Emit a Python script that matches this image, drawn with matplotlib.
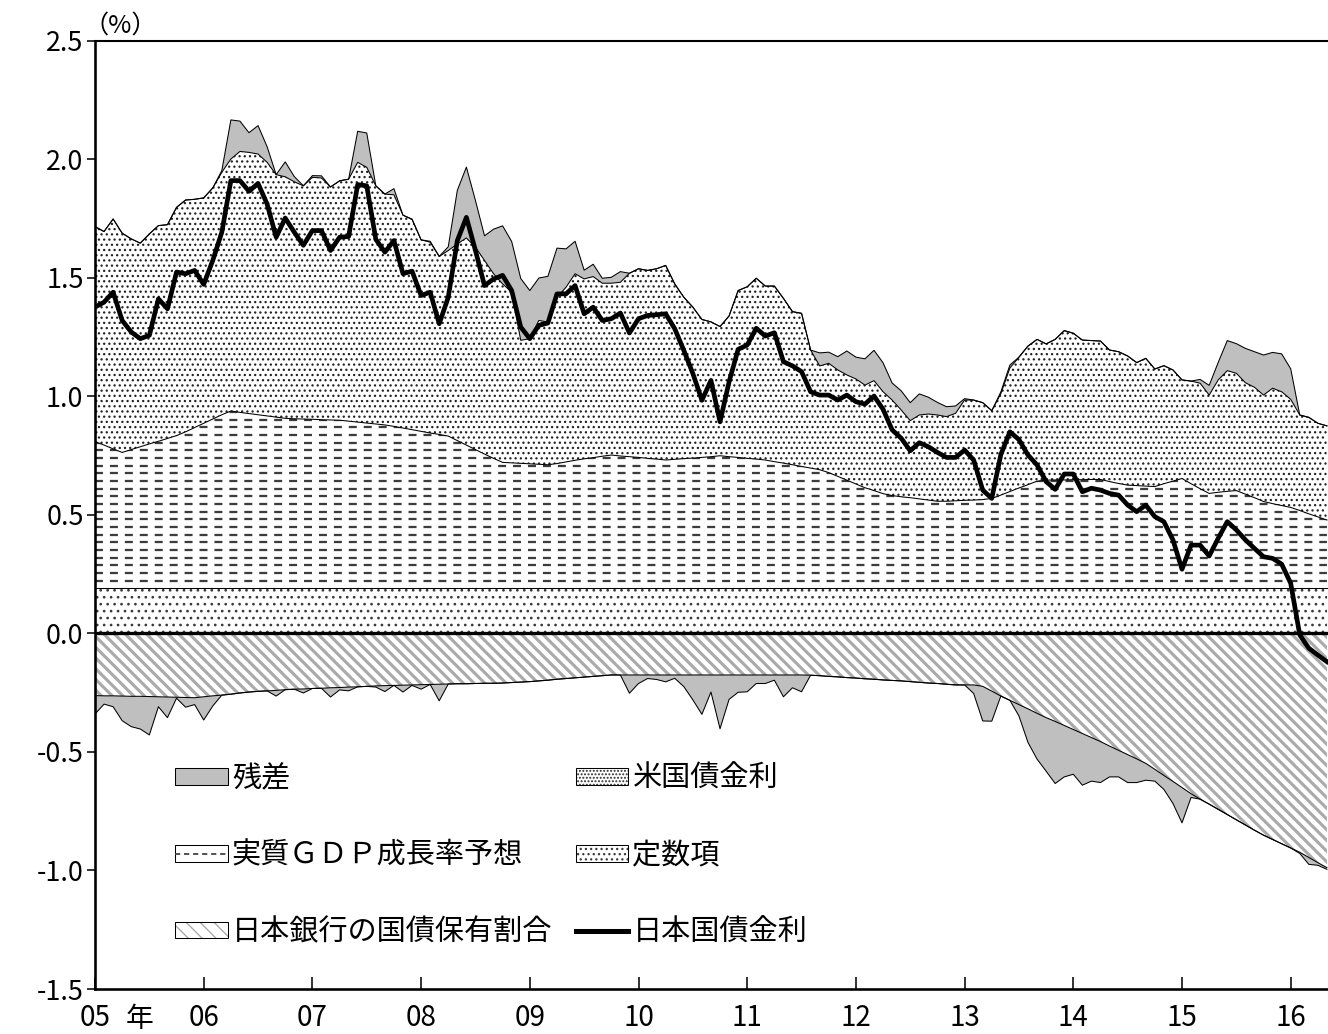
import numpy as np
import matplotlib
matplotlib.use("Agg")
import matplotlib.pyplot as plt
from matplotlib.collections import LineCollection
from matplotlib.patches import Rectangle
from matplotlib.lines import Line2D
from matplotlib.legend_handler import HandlerTuple

plt.rcParams['font.family'] = ['Noto Sans CJK JP', 'DejaVu Sans']
plt.rcParams['axes.unicode_minus'] = False
plt.rcParams['lines.scale_dashes'] = False
plt.rcParams['hatch.linewidth'] = 0.75

# ---------------- data (monthly, Jan 2005 - May 2016) ----------------
start_year = 2005
n_months = 137

const_term = 0.19   # 定数項

# top of 実質GDP成長率予想 band (stacked on 定数項)
gdp_top = [
    0.810, 0.795, 0.779, 0.764, 0.776, 0.788, 0.800, 0.811, 0.823, 0.835,
    0.851, 0.869, 0.887, 0.905, 0.923, 0.939, 0.933, 0.928, 0.923, 0.918,
    0.913, 0.908, 0.906, 0.905, 0.904, 0.902, 0.901, 0.900, 0.896, 0.892,
    0.888, 0.884, 0.880, 0.874, 0.867, 0.860, 0.853, 0.846, 0.840, 0.833,
    0.814, 0.795, 0.776, 0.757, 0.739, 0.722, 0.720, 0.718, 0.716, 0.714,
    0.712, 0.717, 0.724, 0.731, 0.737, 0.742, 0.748, 0.753, 0.749, 0.746,
    0.743, 0.739, 0.736, 0.732, 0.735, 0.738, 0.740, 0.743, 0.746, 0.750,
    0.746, 0.743, 0.739, 0.736, 0.732, 0.725, 0.719, 0.712, 0.705, 0.698,
    0.691, 0.679, 0.663, 0.647, 0.631, 0.615, 0.603, 0.590, 0.582, 0.577,
    0.573, 0.568, 0.563, 0.558, 0.558, 0.560, 0.562, 0.563, 0.565, 0.570,
    0.584, 0.599, 0.614, 0.628, 0.643, 0.647, 0.648, 0.648, 0.649, 0.649,
    0.650, 0.650, 0.641, 0.633, 0.626, 0.624, 0.622, 0.620, 0.632, 0.643,
    0.654, 0.632, 0.611, 0.591, 0.596, 0.600, 0.603, 0.588, 0.573, 0.557,
    0.548, 0.540, 0.532, 0.519, 0.505, 0.492, 0.479]

# top of 米国債金利 band (stacked on GDP)
pos_top = [
    1.717, 1.696, 1.749, 1.689, 1.665, 1.647, 1.686, 1.721, 1.725, 1.798,
    1.829, 1.832, 1.838, 1.880, 1.946, 2.002, 2.034, 2.030, 2.023, 1.988,
    1.936, 1.927, 1.906, 1.889, 1.925, 1.922, 1.884, 1.910, 1.917, 1.988,
    1.967, 1.889, 1.854, 1.851, 1.765, 1.748, 1.661, 1.651, 1.591, 1.616,
    1.644, 1.669, 1.630, 1.574, 1.518, 1.475, 1.440, 1.237, 1.244, 1.321,
    1.314, 1.419, 1.461, 1.518, 1.496, 1.506, 1.478, 1.478, 1.482, 1.520,
    1.539, 1.532, 1.539, 1.553, 1.475, 1.419, 1.377, 1.325, 1.315, 1.295,
    1.340, 1.447, 1.463, 1.499, 1.466, 1.466, 1.414, 1.358, 1.351, 1.196,
    1.129, 1.140, 1.112, 1.091, 1.074, 1.048, 1.067, 1.020, 0.985, 0.943,
    0.898, 0.922, 0.926, 0.922, 0.915, 0.929, 0.985, 0.985, 0.974, 0.940,
    1.012, 1.120, 1.166, 1.213, 1.241, 1.222, 1.241, 1.278, 1.267, 1.238,
    1.236, 1.234, 1.196, 1.189, 1.171, 1.143, 1.161, 1.116, 1.130, 1.112,
    1.070, 1.065, 1.056, 1.006, 1.070, 1.109, 1.098, 1.058, 1.039, 1.006,
    1.035, 1.020, 0.988, 0.922, 0.912, 0.887, 0.876]

# 日本銀行の国債保有割合 contribution (negative)
boj = [
    -0.262, -0.263, -0.263, -0.264, -0.265, -0.265, -0.266, -0.267, -0.268, -0.269,
    -0.270, -0.271, -0.267, -0.263, -0.260, -0.256, -0.251, -0.247, -0.244, -0.242,
    -0.240, -0.237, -0.235, -0.234, -0.232, -0.231, -0.229, -0.228, -0.226, -0.225,
    -0.223, -0.221, -0.220, -0.219, -0.218, -0.217, -0.216, -0.215, -0.214, -0.213,
    -0.212, -0.212, -0.211, -0.210, -0.210, -0.209, -0.207, -0.205, -0.203, -0.200,
    -0.197, -0.193, -0.190, -0.187, -0.184, -0.181, -0.178, -0.175, -0.175, -0.175,
    -0.175, -0.175, -0.175, -0.175, -0.175, -0.175, -0.175, -0.175, -0.175, -0.175,
    -0.175, -0.175, -0.175, -0.175, -0.175, -0.175, -0.175, -0.175, -0.175, -0.176,
    -0.178, -0.181, -0.183, -0.186, -0.188, -0.191, -0.193, -0.196, -0.198, -0.200,
    -0.203, -0.206, -0.209, -0.211, -0.214, -0.217, -0.217, -0.217, -0.223, -0.243,
    -0.264, -0.282, -0.300, -0.318, -0.337, -0.355, -0.371, -0.388, -0.405, -0.422,
    -0.439, -0.456, -0.475, -0.493, -0.511, -0.529, -0.548, -0.573, -0.599, -0.624,
    -0.650, -0.676, -0.699, -0.720, -0.742, -0.764, -0.786, -0.808, -0.830, -0.851,
    -0.869, -0.887, -0.905, -0.923, -0.945, -0.967, -0.988]

# 日本国債金利 (10y JGB yield)
jgb = [
    1.377, 1.398, 1.440, 1.321, 1.272, 1.244, 1.258, 1.412, 1.370, 1.525,
    1.518, 1.532, 1.473, 1.574, 1.693, 1.911, 1.911, 1.866, 1.899, 1.812,
    1.672, 1.753, 1.693, 1.638, 1.700, 1.700, 1.616, 1.672, 1.675, 1.894,
    1.889, 1.663, 1.609, 1.658, 1.518, 1.529, 1.426, 1.440, 1.307, 1.419,
    1.658, 1.756, 1.616, 1.468, 1.496, 1.511, 1.447, 1.293, 1.244, 1.300,
    1.310, 1.433, 1.433, 1.468, 1.349, 1.377, 1.321, 1.328, 1.352, 1.268,
    1.328, 1.342, 1.345, 1.349, 1.286, 1.195, 1.097, 0.984, 1.068, 0.893,
    1.062, 1.199, 1.217, 1.288, 1.255, 1.269, 1.147, 1.129, 1.105, 1.020,
    1.006, 1.006, 0.985, 1.006, 0.978, 0.968, 1.002, 0.946, 0.859, 0.824,
    0.771, 0.805, 0.788, 0.764, 0.743, 0.743, 0.774, 0.732, 0.605, 0.570,
    0.755, 0.851, 0.818, 0.753, 0.711, 0.641, 0.608, 0.673, 0.673, 0.598,
    0.613, 0.605, 0.591, 0.584, 0.542, 0.514, 0.542, 0.493, 0.472, 0.395,
    0.271, 0.373, 0.373, 0.327, 0.402, 0.472, 0.437, 0.395, 0.359, 0.324,
    0.317, 0.293, 0.212, -0.006, -0.062, -0.091, -0.119]

year_ticks = list(range(2005, 2017))
year_labels = ['05', '06', '07', '08', '09', '10', '11', '12', '13', '14', '15', '16']
y_ticks = [-1.5, -1.0, -0.5, 0.0, 0.5, 1.0, 1.5, 2.0, 2.5]
y_labels = ['-1.5', '-1.0', '-0.5', '0.0', '0.5', '1.0', '1.5', '2.0', '2.5']

legend_labels = ['残差', '実質ＧＤＰ成長率予想', '日本銀行の国債保有割合',
                 '米国債金利', '定数項', '日本国債金利']

# ---------------- derived arrays ----------------
x = start_year + np.arange(n_months) / 12.0
gdp_top = np.array(gdp_top)
pos_top = np.array(pos_top)
boj = np.array(boj)
jgb = np.array(jgb)
const_arr = np.full(n_months, const_term)
resid = jgb - pos_top - boj          # 残差 = JGB - sum of other components
res_pos = np.clip(resid, 0, None)
res_neg = np.clip(resid, None, 0)

# ---------------- figure ----------------
W, H, DPI = 1328, 1034, 125
fig = plt.figure(figsize=(W / DPI, H / DPI), dpi=DPI)
ax_left, ax_right, ax_top, ax_bottom = 95, 1328, 41, 989
ax = fig.add_axes([ax_left / W, 1 - ax_bottom / H,
                   (ax_right - ax_left) / W, (ax_bottom - ax_top) / H])
px_per_year = 108.7
ax.set_xlim(2005, 2005 + (ax_right - ax_left) / px_per_year)
ax.set_ylim(-1.5, 2.5)

GRAY = '#bfbfbf'
thin = 0.6

# 定数項 (sparse dots)
ax.fill_between(x, 0, const_arr, facecolor='white', edgecolor='#3a3a3a',
                linewidth=0, hatch='...', zorder=1)
# 実質GDP成長率予想 (dashed horizontal lines)
gdp_poly = ax.fill_between(x, const_arr, gdp_top, facecolor='white',
                           edgecolor='none', linewidth=0, zorder=1)
# 米国債金利 (dense dots)
ax.fill_between(x, gdp_top, pos_top, facecolor='white', edgecolor='#222222',
                linewidth=0, hatch='....', zorder=1)
# 残差 positive
ax.fill_between(x, pos_top, pos_top + res_pos, facecolor=GRAY,
                edgecolor='none', linewidth=0, zorder=1)
# 日本銀行の国債保有割合 (diagonal stripes)
boj_poly = ax.fill_between(x, 0, boj, facecolor='white', edgecolor='none',
                           linewidth=0, zorder=1)
# 残差 negative
ax.fill_between(x, boj, boj + res_neg, facecolor=GRAY, edgecolor='none',
                linewidth=0, zorder=1)

# dashed texture inside GDP band
ppu = (ax_bottom - ax_top) / 4.0        # pixels per 1% unit
row_step = 7.67 / ppu
rows = const_term + row_step * np.arange(1, 40)
rows = rows[rows < 1.0]
dash_lc = ax.hlines(rows, 2005, 2017, colors='#3c3c3c', linewidth=1.3,
                    zorder=1.5)
dash_lc.set_linestyle((0, (4.6, 4.0)))
dash_lc.set_clip_path(gdp_poly.get_paths()[0], ax.transData)

# diagonal stripes inside BOJ band (axes coords, 45 deg in pixels)
aw, ah = ax_right - ax_left, ax_bottom - ax_top
spacing = 10.7 / aw
starts = np.arange(-ah / aw - spacing, 1 + spacing, spacing)
segs = [[(u, 1.0), (u + ah / aw, 0.0)] for u in starts]
stripe_lc = LineCollection(segs, colors='#aaaaaa', linewidths=1.8,
                           transform=ax.transAxes, zorder=1.5)
ax.add_collection(stripe_lc)
stripe_lc.set_clip_path(boj_poly.get_paths()[0], ax.transData)

# boundary lines
for yy in [const_arr, gdp_top, pos_top, pos_top + res_pos, boj, boj + res_neg]:
    ax.plot(x, yy, color='black', lw=thin, zorder=2)

ax.axhline(0, color='black', lw=1.9, zorder=3)
ax.plot(x, jgb, color='black', lw=2.7, zorder=4)

# axes styling
ax.spines['right'].set_visible(False)
ax.spines['left'].set_linewidth(1.5)
ax.spines['bottom'].set_linewidth(1.5)
ax.spines['top'].set_linewidth(1.2)
ax.set_xticks(year_ticks)
ax.set_xticklabels(year_labels)
ax.set_yticks(y_ticks)
ax.set_yticklabels(y_labels)
ax.tick_params(axis='x', direction='in', length=7, width=0.9, pad=8,
               labelsize=16)
ax.tick_params(axis='y', direction='out', length=4.6, width=0.9, pad=2,
               labelsize=15.5)

fig.text(140 / W, 1 - 1019 / H, '年', ha='center', va='center', fontsize=16)
fig.text(120 / W, 1 - 26 / H, '（%）', ha='center', va='center', fontsize=14.5)

# legend
h_res = Rectangle((0, 0), 1, 1, facecolor=GRAY, edgecolor='black', lw=thin)
h_gdp = (Rectangle((0, 0), 1, 1, facecolor='white', edgecolor='black', lw=thin),
         Line2D([], [], color='#3c3c3c', lw=1.0, linestyle=(0, (3.0, 2.2))))
h_boj = (Rectangle((0, 0), 1, 1, facecolor='white', edgecolor='#a8a8a8',
                   lw=0, hatch='\\\\\\'),
         Rectangle((0, 0), 1, 1, facecolor='none', edgecolor='black', lw=thin))
h_us = (Rectangle((0, 0), 1, 1, facecolor='white', edgecolor='#2a2a2a',
                  lw=0, hatch='......'),
        Rectangle((0, 0), 1, 1, facecolor='none', edgecolor='black', lw=thin))
h_const = (Rectangle((0, 0), 1, 1, facecolor='white', edgecolor='#3a3a3a',
                     lw=0, hatch='....'),
           Rectangle((0, 0), 1, 1, facecolor='none', edgecolor='black', lw=thin))
h_jgb = Line2D([], [], color='black', lw=2.9)

leg = ax.legend([h_res, h_gdp, h_boj, h_us, h_const, h_jgb], legend_labels,
                ncol=2, loc='upper left',
                bbox_to_anchor=(175 / W, 1 - 764 / H),
                bbox_transform=fig.transFigure, frameon=False,
                fontsize=16.8, handlelength=1.8, handleheight=0.5,
                handletextpad=0.15, labelspacing=1.6, columnspacing=0.8,
                borderpad=0, borderaxespad=0,
                handler_map={tuple: HandlerTuple(ndivide=1, pad=0)})
leg.set_zorder(6)

fig.savefig('out.png', dpi=DPI)
